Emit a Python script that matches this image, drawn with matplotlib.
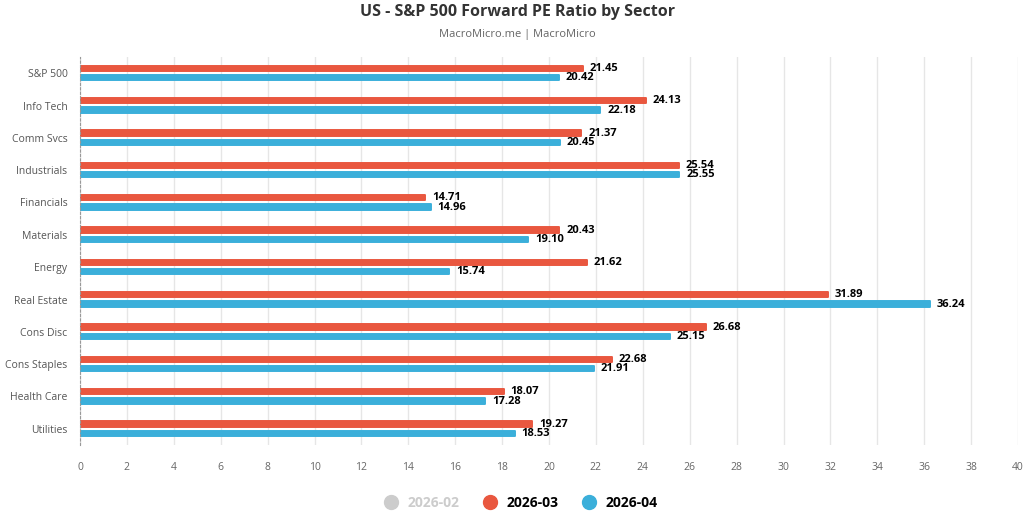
import numpy as np
from matplotlib import pyplot as plt
from matplotlib.lines import Line2D

plt.rcParams['font.family'] = ['Open Sans', 'DejaVu Sans']

sectors = ['S&P 500', 'Info Tech', 'Comm Svcs', 'Industrials', 'Financials',
           'Materials', 'Energy', 'Real Estate', 'Cons Disc', 'Cons Staples',
           'Health Care', 'Utilities']
mar = [21.45, 24.13, 21.37, 25.54, 14.71, 20.43, 21.62, 31.89, 26.68, 22.68, 18.07, 19.27]
apr = [20.42, 22.18, 20.45, 25.55, 14.96, 19.10, 15.74, 36.24, 25.15, 21.91, 17.28, 18.53]
xticks = np.arange(0, 41, 2)

red = '#E9573F'
blue = '#3BAFDA'

fig = plt.figure(figsize=(10.35, 5.2), dpi=100)
ax = fig.add_axes([80 / 1035, 75 / 520, 938 / 1035, 388 / 520])

y = np.arange(len(sectors))
h = 0.165
# thin edge with round joins softens the bar corners
b1 = ax.barh(y - 0.145, mar, height=h, color=red, edgecolor=red, linewidth=1.4, zorder=3)
b2 = ax.barh(y + 0.14, apr, height=h, color=blue, edgecolor=blue, linewidth=1.4, zorder=3)
for p in list(b1) + list(b2):
    p.set_joinstyle('round')

for yi, v in zip(y, mar):
    ax.annotate(f'{v:.2f}', (v, yi - 0.145), xytext=(5, 0), textcoords='offset points',
                va='center', ha='left', fontsize=8, fontweight='bold', color='black')
for yi, v in zip(y, apr):
    ax.annotate(f'{v:.2f}', (v, yi + 0.14), xytext=(5, 0), textcoords='offset points',
                va='center', ha='left', fontsize=8, fontweight='bold', color='black')

ax.set_ylim(len(sectors) - 0.5, -0.5)
ax.set_xlim(0, 40)
ax.set_yticks(y)
ax.set_yticklabels(sectors, fontsize=7.5, color='#555555')
ax.set_xticks(xticks)
ax.set_xticklabels([str(t) for t in xticks], fontsize=7.5, color='#666666')
ax.tick_params(axis='y', length=0, pad=9)
ax.tick_params(axis='x', length=0, pad=12)

ax.grid(axis='x', color='#e6e6e6', linewidth=1, zorder=0)
for s in ['top', 'right', 'bottom']:
    ax.spines[s].set_visible(False)
ax.spines['left'].set_linestyle((0, (2, 2)))
ax.spines['left'].set_color('#999999')
ax.spines['left'].set_linewidth(0.8)
ax.spines['left'].set_zorder(4)

fig.text(0.5, 0.977, 'US - S&P 500 Forward PE Ratio by Sector', ha='center', va='center',
         fontsize=11.5, fontweight='bold', color='#333333')
fig.text(0.5, 0.933, 'MacroMicro.me | MacroMicro', ha='center', va='center',
         fontsize=8, color='#666666')

handles = [Line2D([], [], marker='o', linestyle='', markersize=10, color=c)
           for c in ['#cccccc', red, blue]]
leg = fig.legend(handles, ['2026-02', '2026-03', '2026-04'], loc='center',
                 bbox_to_anchor=(0.5, 0.033), ncol=3, frameon=False,
                 handletextpad=0.2, columnspacing=1.2, prop={'weight': 'bold', 'size': 10})
for t, c in zip(leg.get_texts(), ['#cccccc', 'black', 'black']):
    t.set_color(c)

fig.savefig('out.png', dpi=100)
